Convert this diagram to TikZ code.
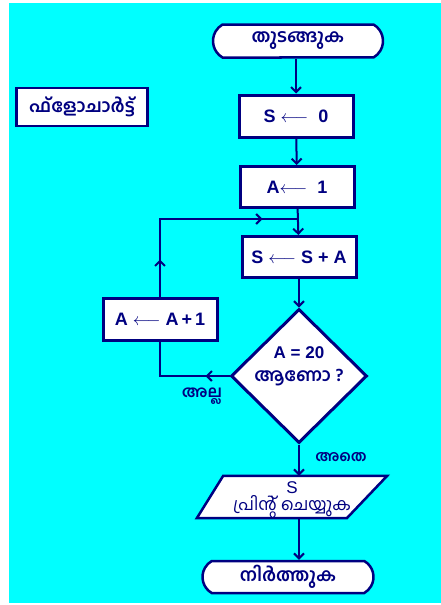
\documentclass[tikz,border=0pt]{standalone}
\usepackage{fontspec}
\setmainfont{Liberation Sans}
\newfontfamily\mlfont[Script=Malayalam]{Hind Kochi}
\usetikzlibrary{arrows.meta,shapes.geometric,shapes.misc,decorations.markings}
\definecolor{fcSky}{RGB}{0,255,255}
\definecolor{fcNavy}{RGB}{0,0,128}
\newcommand{\mltext}[1]{{\mlfont\bfseries #1}}

\tikzset{
  fcbox/.style={draw=fcNavy, fill=white, line width=3pt, minimum width=114pt,
    minimum height=41pt, inner sep=0pt, font=\fontsize{18}{20}\selectfont\bfseries\color{fcNavy}},
  terminal/.style={rounded rectangle, rounded rectangle arc length=120, draw=fcNavy,
    fill=white, line width=2.5pt, minimum width=170pt, minimum height=33pt, inner sep=0pt,
    font=\fontsize{18}{20}\selectfont\color{fcNavy}},
  decision/.style={diamond, draw=fcNavy, fill=white, line width=3pt, minimum width=136pt,
    minimum height=134pt, inner sep=0pt},
  iotext/.style={minimum width=190pt, minimum height=42pt, inner sep=0pt, align=center, text=fcNavy},
  iobox/.style={draw=fcNavy, fill=white, line width=2.5pt, line join=miter},
  flowline/.style={draw=fcNavy, line width=2pt, -{Straight Barb[length=5pt,width=10pt]}},
  loopline/.style={draw=fcNavy, line width=2pt},
  midarrow/.style={postaction={decorate, decoration={markings,
    mark=at position #1 with {\arrow[line width=2pt]{Straight Barb[length=5pt,width=10pt]}}}}},
  yesno/.style={font=\fontsize{16}{18}\selectfont\color{fcNavy}}
}

\begin{document}
\begin{tikzpicture}[x=1pt,y=-1pt]
  % page and sky background
  \fill[white] (0,0) rectangle (441,605);
  \fill[fcSky] (9,3) rectangle (441,603);
  \useasboundingbox (0,0) rectangle (441,605);

  \node[fcbox, line width=2.5pt, minimum width=131pt, minimum height=38pt,
    font=\fontsize{18}{20}\selectfont\color{fcNavy}] (title) at (82,107) {\mltext{ഫ്ളോചാർട്ട്}};

  \node[terminal] (start) at (298,41) {\mltext{തുടങ്ങുക}};
  \node[fcbox, minimum height=42pt] (s0) at (296,116) {S $\longleftarrow$\ \ 0};
  \node[fcbox] (a1) at (297,187) {A$\longleftarrow$\ \ 1};
  \node[fcbox] (sum) at (299,257) {S $\longleftarrow$ S + A};
  \node[fcbox, minimum height=42pt] (inc) at (160,319) {A $\longleftarrow$ A\,+\,1};
  \node[decision] (dec) at (299,376) {};
  \node[text=fcNavy, font=\fontsize{17}{19}\selectfont\bfseries] (decA) at (299,353) {A = 20};
  \node[text=fcNavy, font=\fontsize{18}{20}\selectfont] (decB) at (299,378) {\mltext{ആണോ ?}};

  % input/output box: frame node, outline, then its text
  \node[iotext] (print) at (292,497) {};
  \draw[iobox] (print.south west) -- ++(150,0) -- (print.north east) -- ++(-164,0) -- cycle;
  \node[iotext] (printlabel) at ([yshift=-3pt]print.center)
    {{\fontsize{17}{12}\selectfont S}\\[1pt]{\mlfont\fontsize{17}{13}\selectfont പ്രിന്റ്  ചെയ്യുക}};

  \node[terminal, minimum width=171pt, minimum height=32pt] (stop) at (288,577) {\mltext{നിർത്തുക}};

  \node[yesno] (no) at (202,396) {\mltext{അല്ല}};
  \node[yesno, font=\fontsize{15}{17}\selectfont\color{fcNavy}] (yes) at (341,457) {\mltext{അതെ}};

  \coordinate (join) at (a1.south |- 0,219);

  % main column
  \draw[flowline] (start.south -| s0.north) -- (s0.north);
  \draw[flowline] (s0) -- (a1);
  \draw[flowline] (a1) -- (sum);
  \draw[flowline] (sum.south -| dec.north) -- (dec.north);
  \draw[flowline] (dec.south) -- (dec.south |- print.north);
  \draw[flowline] (print.south -| dec.south) -- (stop.north -| dec.south);

  % loop back
  \draw[loopline, midarrow=24pt] (dec.west) -| (inc.south);
  \draw[loopline, midarrow=37pt, midarrow=180pt] (inc.north) |- (join);
\end{tikzpicture}
\end{document}
